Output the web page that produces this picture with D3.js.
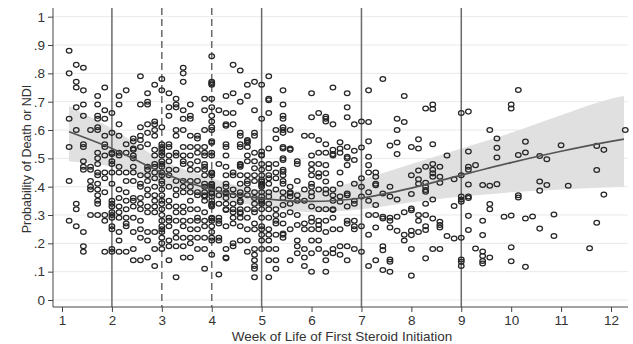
<!DOCTYPE html>
<html>
<head>
<meta charset="utf-8">
<script src="https://cdn.jsdelivr.net/npm/d3@7"></script>
<style>
    body { margin: 0; background: #fff; }
    text { font-family: "Liberation Sans", Arial, sans-serif; fill: #333; }
</style>
</head>
<body>
<div id="plot"></div>
<script>
// day of life at first steroid dose (x = day / 7 weeks), one entry per column of points
let pDays = [8, 9, 10, 11, 12, 13, 14, 15, 16, 17, 18, 19, 20, 21, 22, 23, 24, 25, 26, 27,
    28, 29, 30, 31, 32, 33, 34, 35, 36, 37, 38, 39, 40, 41, 42, 43, 44, 45, 46, 47,
    48, 49, 50, 51, 52, 53, 54, 55, 56, 57, 58, 59, 60, 61, 62, 63, 64, 65, 66, 67,
    68, 69, 70, 71, 72, 73, 74, 75, 76, 77, 78, 81, 82, 83, 86];

// probability of death or NDI for the infants in each column above
let pVals = [
    [.88, .80, .64, .54, .42, .28],
    [.83, .77, .75, .68, .60, .34, .32, .26],
    [.82, .74, .69, .65, .55, .54, .49, .47, .46, .24, .19, .17],
    [.60, .47, .46, .42, .40, .39, .30],
    [.72, .69, .65, .64, .61, .60, .52, .50, .48, .45, .44, .41, .39, .37, .35, .34, .30],
    [.75, .67, .64, .58, .55, .54, .51, .45, .43, .38, .30, .28, .17],
    [.66, .59, .52, .515, .49, .48, .45, .41, .35, .34, .33, .31, .30, .29, .26, .25, .18, .17],
    [.72, .69, .62, .58, .52, .51, .47, .45, .39, .36, .33, .31, .29, .24, .21, .17],
    [.74, .55, .52, .45, .42, .38, .35, .32, .29, .27, .26, .17],
    [.57, .56, .535, .53, .51, .50, .47, .45, .42, .36, .35, .33, .29, .24, .18, .14],
    [.79, .69, .61, .58, .565, .54, .44, .41, .40, .36, .34, .32, .28, .25, .22, .14],
    [.73, .70, .69, .62, .59, .55, .47, .46, .44, .42, .39, .37, .33, .31, .24, .21, .15],
    [.76, .63, .62, .60, .58, .53, .51, .48, .47, .45, .43, .40, .37, .35, .33, .31, .24, .18, .12],
    [.78, .74, .61, .55, .54, .53, .52, .51, .49, .48, .47, .45, .44, .42, .41, .39, .37, .35, .34, .32, .30, .28, .26, .25, .24, .22, .20, .18],
    [.73, .68, .65, .55, .54, .51, .49, .46, .44, .40, .35, .33, .29, .28, .26, .21, .19, .14],
    [.71, .69, .68, .60, .58, .52, .51, .46, .42, .39, .37, .33, .31, .28, .24, .22, .19, .08],
    [.82, .80, .77, .67, .64, .60, .54, .51, .49, .48, .42, .40, .38, .33, .31, .28, .26, .22, .19, .15],
    [.69, .65, .64, .58, .54, .51, .48, .46, .42, .40, .38, .35, .32, .28, .25, .22, .20, .15],
    [.58, .57, .54, .52, .49, .46, .42, .38, .37, .32, .29, .28, .25, .22, .18],
    [.71, .67, .60, .54, .52, .51, .48, .47, .46, .44, .41, .40, .38, .37, .365, .35, .31, .28, .26, .22, .18, .11],
    [.86, .77, .765, .76, .71, .68, .65, .63, .61, .60, .56, .555, .52, .51, .45, .447, .44, .41, .406, .40, .39, .38, .376, .365, .35, .34, .335, .33, .29, .288, .28, .26, .24, .22, .21, .16],
    [.67, .48, .39, .37, .34, .29, .28, .27, .22, .21, .09],
    [.72, .66, .62, .615, .55, .54, .51, .47, .44, .41, .40, .38, .376, .36, .34, .32, .318, .26, .18, .15, .147],
    [.83, .73, .66, .62, .45, .44, .39, .37, .34, .32, .31, .29, .27, .20, .19],
    [.81, .70, .59, .58, .55, .54, .48, .476, .47, .44, .41, .38, .37, .35, .345, .32, .31, .305, .29, .26, .21],
    [.76, .72, .565, .56, .555, .54, .51, .49, .44, .42, .41, .39, .37, .32, .29, .25, .21, .17],
    [.77, .67, .59, .58, .52, .49, .465, .44, .42, .38, .36, .34, .32, .31, .27, .25, .18, .16, .14, .12, .11, .08],
    [.76, .64, .524, .512, .51, .48, .46, .44, .424, .418, .41, .406, .40, .38, .365, .353, .347, .34, .32, .29, .26, .25, .23, .21, .18],
    [.79, .71, .705, .66, .535, .48, .465, .44, .43, .41, .38, .365, .34, .32, .29, .25, .23, .21, .18, .14, .08],
    [.60, .57, .48, .45, .43, .39, .32, .30, .28, .27, .23, .18, .14, .11],
    [.74, .69, .65, .64, .61, .60, .59, .54, .535, .50, .494, .46, .453, .44, .42, .41, .38, .36, .335, .30, .27, .235, .23, .22],
    [.60, .535, .53, .40, .38, .376, .365, .34, .31, .25, .14],
    [.49, .48, .42, .37, .35, .30, .265, .21, .19, .165],
    [.58, .39, .35, .27, .25, .18, .15, .12],
    [.73, .645, .58, .51, .48, .46, .44, .41, .40, .38, .365, .33, .29, .276, .25, .21, .165, .10],
    [.66, .565, .52, .48, .447, .435, .39, .32, .28, .265, .25, .21, .18],
    [.647, .64, .63, .55, .52, .476, .447, .418, .39, .376, .32, .28, .24, .165, .14, .10],
    [.75, .62, .53, .515, .51, .39, .37, .35, .32, .318, .29, .25, .18, .165],
    [.557, .535, .52, .45, .41, .365, .347, .25, .19, .16],
    [.73, .68, .645, .54, .506, .50, .476, .376, .37, .33, .28, .27, .19, .14],
    [.62, .527, .494, .41, .35, .34, .28, .26, .25, .18],
    [.63, .538, .43, .40, .365, .26, .17],
    [.74, .628, .56, .506, .476, .45, .38, .35, .30, .23, .12],
    [.45, .435, .41, .405, .335, .30, .256, .14],
    [.78, .376, .294, .288, .19, .176, .106],
    [.545, .40, .365, .29, .28, .256, .143, .135, .10],
    [.64, .60, .556, .515, .355, .294, .244],
    [.72, .628, .31, .23, .21],
    [.54, .44, .374, .323, .317, .244, .229, .18, .086],
    [.567, .535, .457, .426, .41, .30, .28, .24],
    [.676, .47, .414, .40, .388, .382, .34, .30, .26, .247, .147],
    [.69, .674, .55, .48, .46, .447, .435, .355, .288, .18],
    [.47, .435, .414, .276, .265, .256, .18],
    [.51, .226],
    [.426, .332, .217],
    [.66, .44, .365, .355, .347, .22, .143, .135, .12],
    [.665, .524, .47, .46, .408, .365, .36, .297, .247],
    [.476, .182],
    [.406, .28, .229, .171, .155, .138, .129],
    [.60, .403, .339, .32, .15],
    [.57, .537, .503, .409],
    [.294],
    [.69, .676, .298, .186, .137],
    [.741, .512, .37, .362],
    [.559, .521, .288, .117],
    [.295],
    [.508, .418, .386, .252],
    [.497, .406],
    [.302, .226],
    [.546],
    [.403],
    [.183],
    [.544, .459, .273],
    [.53, .372],
    [.60]
];

// fitted curve and its confidence band, read at these weeks
let fitWeek = [1.14, 2, 3, 4, 5, 6, 7, 8, 9, 10, 11, 12, 12.26];
let fitMean = [.594, .535, .45, .39, .358, .348, .36, .395, .441, .485, .525, .56, .568];
let fitLo = [.49, .47, .41, .36, .33, .31, .32, .345, .365, .38, .39, .398, .40];
let fitHi = [.685, .605, .495, .43, .39, .385, .425, .48, .535, .59, .652, .71, .72];

let xTicks = [1, 2, 3, 4, 5, 6, 7, 8, 9, 10, 11, 12];
let yTicks = [0, .1, .2, .3, .4, .5, .6, .7, .8, .9, 1];
let yTickLabels = ['0', '.1', '.2', '.3', '.4', '.5', '.6', '.7', '.8', '.9', '1'];
let refSolid = [2, 5, 7, 9];
let refDashed = [3, 4];

let svgWidth = 633;
let svgHeight = 344;

let plotLeft = 53, plotRight = 628, plotTop = 8, plotBottom = 307;

let $svg = d3.select('#plot')
    .append('svg')
    .attr('width', svgWidth)
    .attr('height', svgHeight);

let xScale = d3.scaleLinear().domain([1, 12]).range([62, 611]);
let yScale = d3.scaleLinear().domain([0, 1]).range([300, 16.7]);

// Grid
$svg.append('g')
    .selectAll('line')
    .data(yTicks)
    .enter()
    .append('line')
    .attr('x1', plotLeft)
    .attr('x2', plotRight)
    .attr('y1', d => yScale(d))
    .attr('y2', d => yScale(d))
    .attr('stroke', '#e9e9e9')
    .attr('stroke-width', 1);

// Confidence band
let band = d3.area()
    .x((d, i) => xScale(fitWeek[i]))
    .y0((d, i) => yScale(fitLo[i]))
    .y1((d, i) => yScale(fitHi[i]))
    .curve(d3.curveMonotoneX);

$svg.append('path')
    .datum(fitWeek)
    .attr('d', band)
    .attr('fill', '#e0e0e0');

// Reference lines
$svg.append('g')
    .selectAll('line')
    .data(refSolid.concat(refDashed))
    .enter()
    .append('line')
    .attr('x1', d => xScale(d))
    .attr('x2', d => xScale(d))
    .attr('y1', plotTop)
    .attr('y2', plotBottom)
    .attr('stroke', '#6a6a6a')
    .attr('stroke-width', 1.5)
    .attr('stroke-dasharray', d => refDashed.includes(d) ? '7,4' : null);

// Points
let points = [];
pDays.forEach((day, i) => {
    pVals[i].forEach(p => points.push({ week: day / 7, p: p }));
});

$svg.append('g')
    .selectAll('ellipse')
    .data(points)
    .enter()
    .append('ellipse')
    .attr('cx', d => xScale(d.week))
    .attr('cy', d => yScale(d.p))
    .attr('rx', 2.8)
    .attr('ry', 2.4)
    .attr('fill', 'none')
    .attr('stroke', '#262626')
    .attr('stroke-width', 1.25);

// Fitted line
let fitLine = d3.line()
    .x((d, i) => xScale(fitWeek[i]))
    .y((d, i) => yScale(fitMean[i]))
    .curve(d3.curveMonotoneX);

$svg.append('path')
    .datum(fitWeek)
    .attr('d', fitLine)
    .attr('fill', 'none')
    .attr('stroke', '#555')
    .attr('stroke-width', 1.7);

// Axes
let bottomAxis = d3.axisBottom(xScale)
    .tickValues(xTicks)
    .tickSize(5)
    .tickSizeOuter(0)
    .tickPadding(3);

let leftAxis = d3.axisLeft(yScale)
    .tickValues(yTicks)
    .tickFormat((d, i) => yTickLabels[i])
    .tickSize(5)
    .tickSizeOuter(0)
    .tickPadding(3);

let $xAxis = $svg.append('g')
    .attr('transform', `translate(0, ${plotBottom})`)
    .call(bottomAxis);

let $yAxis = $svg.append('g')
    .attr('transform', `translate(${plotLeft}, 0)`)
    .call(leftAxis);

[$xAxis, $yAxis].forEach($a => {
    $a.select('.domain').remove();
    $a.selectAll('.tick line').attr('stroke', '#444');
    $a.selectAll('.tick text')
        .style('font-size', '13.5px')
        .style('font-family', '"Liberation Sans", Arial, sans-serif')
        .attr('fill', '#333');
});

$svg.append('line')
    .attr('x1', plotLeft).attr('x2', plotRight)
    .attr('y1', plotBottom).attr('y2', plotBottom)
    .attr('stroke', '#444');

$svg.append('line')
    .attr('x1', plotLeft).attr('x2', plotLeft)
    .attr('y1', plotTop).attr('y2', plotBottom)
    .attr('stroke', '#444');

// Axis titles
$svg.append('text')
    .attr('x', 342)
    .attr('y', 340.5)
    .attr('text-anchor', 'middle')
    .style('font-size', '13.5px')
    .text('Week of Life of First Steroid Initiation');

$svg.append('text')
    .attr('transform', 'translate(31, 159) rotate(-90)')
    .attr('text-anchor', 'middle')
    .style('font-size', '12.5px')
    .text('Probability of Death or NDI');
</script>
</body>
</html>
